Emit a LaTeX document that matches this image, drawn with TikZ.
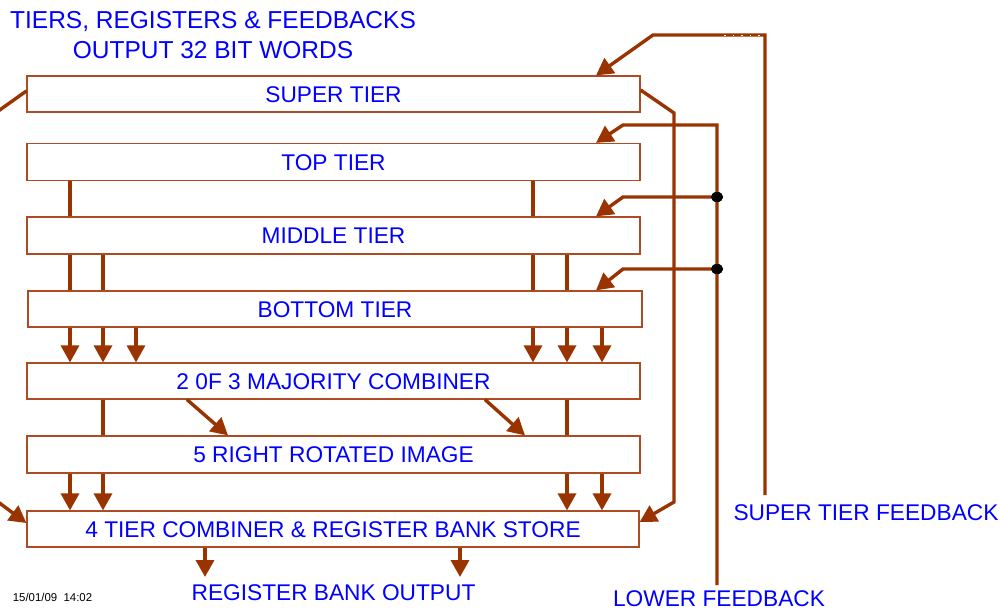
\documentclass[tikz,border=0pt]{standalone}
\usepackage{fontspec}
\setmainfont{Liberation Sans}
\usetikzlibrary{arrows.meta,shapes.geometric}
\definecolor{wire}{RGB}{153,51,0}
\definecolor{rim}{RGB}{175,75,35}
\definecolor{ink}{RGB}{0,0,255}

\begin{document}
\begin{tikzpicture}[x=1pt,y=-1pt,
  tierbox/.style={draw=rim, line width=1.2pt, fill=white, minimum width=613pt,
    minimum height=36pt, inner sep=0pt, text=ink, text height=16.3pt, text depth=0pt,
    font=\fontsize{22.7}{26}\selectfont},
  conn/.style={draw=wire, line width=3.4pt},
  feed/.style={conn, -{Triangle[length=17pt,width=18pt]}},
  caption/.style={text=ink, inner sep=0pt, text height=16.3pt, text depth=0pt,
    font=\fontsize{22.7}{26}\selectfont},
  junction/.style={ellipse, fill=black, minimum width=12pt, minimum height=10pt, inner sep=0pt}]

\useasboundingbox (0,0) rectangle (1000,610);
\clip (0,0) rectangle (1000,610);

% title
\node[text=ink, align=center, inner sep=0pt, font=\fontsize{24.5}{30}\selectfont]
  (title) at (213,35) {TIERS, REGISTERS \& FEEDBACKS\\OUTPUT 32 BIT WORDS};

% tiers and stages
\node[tierbox] (super)    at (333.5,94)    {SUPER TIER};
\node[tierbox, minimum height=37pt] (top) at (333.5,162) {TOP TIER};
\node[tierbox, minimum height=37pt] (middle) at (333.5,235.5) {MIDDLE TIER};
\node[tierbox, minimum width=614pt] (bottom) at (335,309) {BOTTOM TIER};
\node[tierbox] (majority) at (333.5,381)   {2 0F 3 MAJORITY COMBINER};
\node[tierbox, minimum height=37pt] (rotated) at (333.5,454.5) {5 RIGHT ROTATED IMAGE};
\node[tierbox, minimum width=612pt] (store) at (333,529) {4 TIER COMBINER \& REGISTER BANK STORE};

% captions
\node[caption] (output) at (333.5,592) {REGISTER BANK OUTPUT};
\node[caption] (lowerlbl) at (719,598) {LOWER FEEDBACK};
\node[caption] (superlbl) at (866,512) {SUPER TIER FEEDBACK};
\node[inner sep=0pt, font=\fontsize{11.4}{13}\selectfont] (date) at (52.5,597) {15/01/09\ \ 14:02};

% column positions
\coordinate (c1) at (70,0);
\coordinate (c2) at (103,0);
\coordinate (c3) at (136,0);
\coordinate (c4) at (533,0);
\coordinate (c5) at (567,0);
\coordinate (c6) at (602,0);

% top -> middle
\draw[conn] (top.south -| c1) -- (middle.north -| c1);
\draw[conn] (top.south -| c4) -- (middle.north -| c4);
% middle -> bottom
\foreach \c in {c1,c2,c4,c5}
  \draw[conn] (middle.south -| \c) -- (bottom.north -| \c);
% bottom -> majority
\foreach \c in {c1,c2,c3,c4,c5,c6}
  \draw[feed] (bottom.south -| \c) -- (majority.north -| \c);
% majority -> rotated
\draw[conn] (majority.south -| c2) -- (rotated.north -| c2);
\draw[conn] (majority.south -| c5) -- (rotated.north -| c5);
\coordinate (d1) at (187,0);
\coordinate (d2) at (228,0);
\coordinate (d3) at (485,0);
\coordinate (d4) at (525,0);
\draw[feed] (majority.south -| d1) -- (rotated.north -| d2);
\draw[feed] (majority.south -| d3) -- (rotated.north -| d4);
% rotated -> store
\foreach \c in {c1,c2,c5,c6}
  \draw[feed] (rotated.south -| \c) -- (store.north -| \c);
% store -> output
\coordinate (o1) at (205,577);
\coordinate (o2) at (460,577);
\draw[feed] (store.south -| o1) -- (o1);
\draw[feed] (store.south -| o2) -- (o2);

% left-hand feedback, leaving and entering the picture
\coordinate (lout) at (-20,124);
\coordinate (lin) at (-14,493);
\draw[conn] ([yshift=3pt]super.west) -- (lout);
\draw[feed] (lin) -- ([yshift=6pt]store.west);

% super tier loop to the store
\coordinate (s1) at (674,113);
\coordinate (s2) at (674,502);
\draw[feed] ([yshift=4pt]super.east) -- (s1) -- (s2) -- ([yshift=7pt]store.east);

% super tier feedback
\coordinate (sf0) at (765,495);
\coordinate (sf1) at (765,35);
\coordinate (sf2) at (653,35);
\coordinate (st) at (596,0);
\draw[feed] (sf0) -- (sf1) -- (sf2) -- (super.north -| st);
\draw[white, line width=0.8pt, dash pattern=on 1.5pt off 7pt] (724,35) -- (762,35);

% lower feedback
\coordinate (lf0) at (717,585);
\coordinate (lf1) at (717,125);
\coordinate (lf2) at (623,125);
\draw[feed] (lf0) -- (lf1) -- (lf2) -- (top.north -| st);
\node[junction] (j1) at (717,197) {};
\node[junction] (j2) at (717,269) {};
\coordinate (k1) at (623,197);
\coordinate (k2) at (623,269);
\draw[feed] (j1.center) -- (k1) -- (middle.north -| st);
\draw[feed] (j2.center) -- (k2) -- (bottom.north -| st);
\node[junction] at (j1) {};
\node[junction] at (j2) {};
\end{tikzpicture}
\end{document}
